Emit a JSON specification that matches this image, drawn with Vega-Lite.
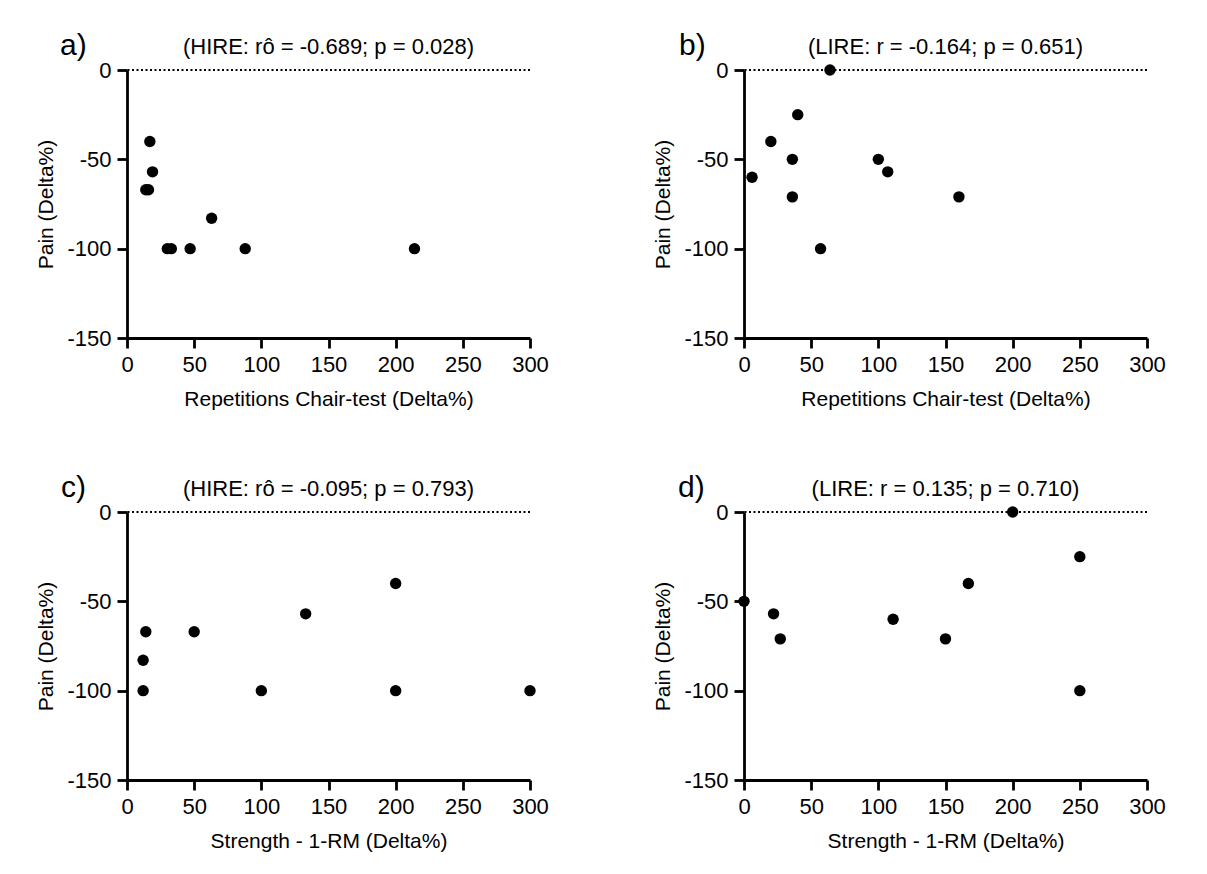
{
  "$schema": "https://vega.github.io/schema/vega-lite/v6.json",
  "padding": {"left": 35, "top": 31, "right": 5, "bottom": 5},
  "background": "white",
  "columns": 2,
  "spacing": {"row": 174, "column": 214},
  "bounds": "flush",
  "concat": [
    {
      "width": 403, "height": 268,
      "layer": [
        {"data": {"values": [{"ref": 0}]}, "mark": {"type": "rule", "strokeDash": [2, 2.5], "strokeWidth": 2, "color": "black"}, "encoding": {"y": {"field": "ref", "type": "quantitative", "scale": {"domain": [-150, 0], "nice": false}}}},
        {"data": {"values": [
          {"x": 17, "pain": -40}, {"x": 19, "pain": -57}, {"x": 14, "pain": -67}, {"x": 16, "pain": -67}, {"x": 63, "pain": -83},
          {"x": 30, "pain": -100}, {"x": 33, "pain": -100}, {"x": 47, "pain": -100}, {"x": 88, "pain": -100}, {"x": 214, "pain": -100}]},
         "mark": {"type": "point", "filled": true, "size": 130, "color": "black", "opacity": 1, "clip": false},
         "encoding": {
           "x": {"field": "x", "type": "quantitative", "scale": {"domain": [0, 300], "nice": false}, "axis": {"values": [0, 50, 100, 150, 200, 250, 300], "title": "Repetitions Chair-test (Delta%)"}},
           "y": {"field": "pain", "type": "quantitative", "scale": {"domain": [-150, 0], "nice": false}, "axis": {"values": [-150, -100, -50, 0], "title": "Pain (Delta%)"}}}},
        {"data": {"values": [{"lx": 0, "ly": 0, "label": "a)"}]}, "mark": {"type": "text", "fontSize": 30, "align": "left", "baseline": "alphabetic", "dx": -67, "dy": -15, "color": "black", "clip": false},
         "encoding": {"x": {"field": "lx", "type": "quantitative"}, "y": {"field": "ly", "type": "quantitative"}, "text": {"field": "label"}}},
        {"data": {"values": [{"lx": 150, "ly": 0, "label": "(HIRE: rô = -0.689; p = 0.028)"}]}, "mark": {"type": "text", "fontSize": 22, "align": "center", "baseline": "alphabetic", "dy": -16, "color": "black", "clip": false},
         "encoding": {"x": {"field": "lx", "type": "quantitative"}, "y": {"field": "ly", "type": "quantitative"}, "text": {"field": "label"}}}
      ]
    },
    {
      "width": 403, "height": 268,
      "layer": [
        {"data": {"values": [{"ref": 0}]}, "mark": {"type": "rule", "strokeDash": [2, 2.5], "strokeWidth": 2, "color": "black"}, "encoding": {"y": {"field": "ref", "type": "quantitative", "scale": {"domain": [-150, 0], "nice": false}}}},
        {"data": {"values": [
          {"x": 64, "pain": 0}, {"x": 40, "pain": -25}, {"x": 20, "pain": -40}, {"x": 36, "pain": -50}, {"x": 6, "pain": -60},
          {"x": 36, "pain": -71}, {"x": 57, "pain": -100}, {"x": 100, "pain": -50}, {"x": 107, "pain": -57}, {"x": 160, "pain": -71}]},
         "mark": {"type": "point", "filled": true, "size": 130, "color": "black", "opacity": 1, "clip": false},
         "encoding": {
           "x": {"field": "x", "type": "quantitative", "scale": {"domain": [0, 300], "nice": false}, "axis": {"values": [0, 50, 100, 150, 200, 250, 300], "title": "Repetitions Chair-test (Delta%)"}},
           "y": {"field": "pain", "type": "quantitative", "scale": {"domain": [-150, 0], "nice": false}, "axis": {"values": [-150, -100, -50, 0], "title": "Pain (Delta%)"}}}},
        {"data": {"values": [{"lx": 0, "ly": 0, "label": "b)"}]}, "mark": {"type": "text", "fontSize": 30, "align": "left", "baseline": "alphabetic", "dx": -65, "dy": -15, "color": "black", "clip": false},
         "encoding": {"x": {"field": "lx", "type": "quantitative"}, "y": {"field": "ly", "type": "quantitative"}, "text": {"field": "label"}}},
        {"data": {"values": [{"lx": 150, "ly": 0, "label": "(LIRE: r = -0.164; p = 0.651)"}]}, "mark": {"type": "text", "fontSize": 22, "align": "center", "baseline": "alphabetic", "dy": -16, "color": "black", "clip": false},
         "encoding": {"x": {"field": "lx", "type": "quantitative"}, "y": {"field": "ly", "type": "quantitative"}, "text": {"field": "label"}}}
      ]
    },
    {
      "width": 403, "height": 268,
      "layer": [
        {"data": {"values": [{"ref": 0}]}, "mark": {"type": "rule", "strokeDash": [2, 2.5], "strokeWidth": 2, "color": "black"}, "encoding": {"y": {"field": "ref", "type": "quantitative", "scale": {"domain": [-150, 0], "nice": false}}}},
        {"data": {"values": [
          {"x": 14, "pain": -67}, {"x": 50, "pain": -67}, {"x": 12, "pain": -83}, {"x": 12, "pain": -100}, {"x": 100, "pain": -100},
          {"x": 133, "pain": -57}, {"x": 200, "pain": -40}, {"x": 200, "pain": -100}, {"x": 300, "pain": -100}]},
         "mark": {"type": "point", "filled": true, "size": 130, "color": "black", "opacity": 1, "clip": false},
         "encoding": {
           "x": {"field": "x", "type": "quantitative", "scale": {"domain": [0, 300], "nice": false}, "axis": {"values": [0, 50, 100, 150, 200, 250, 300], "title": "Strength - 1-RM (Delta%)"}},
           "y": {"field": "pain", "type": "quantitative", "scale": {"domain": [-150, 0], "nice": false}, "axis": {"values": [-150, -100, -50, 0], "title": "Pain (Delta%)"}}}},
        {"data": {"values": [{"lx": 0, "ly": 0, "label": "c)"}]}, "mark": {"type": "text", "fontSize": 30, "align": "left", "baseline": "alphabetic", "dx": -66, "dy": -15, "color": "black", "clip": false},
         "encoding": {"x": {"field": "lx", "type": "quantitative"}, "y": {"field": "ly", "type": "quantitative"}, "text": {"field": "label"}}},
        {"data": {"values": [{"lx": 150, "ly": 0, "label": "(HIRE: rô = -0.095; p = 0.793)"}]}, "mark": {"type": "text", "fontSize": 22, "align": "center", "baseline": "alphabetic", "dy": -16, "color": "black", "clip": false},
         "encoding": {"x": {"field": "lx", "type": "quantitative"}, "y": {"field": "ly", "type": "quantitative"}, "text": {"field": "label"}}}
      ]
    },
    {
      "width": 403, "height": 268,
      "layer": [
        {"data": {"values": [{"ref": 0}]}, "mark": {"type": "rule", "strokeDash": [2, 2.5], "strokeWidth": 2, "color": "black"}, "encoding": {"y": {"field": "ref", "type": "quantitative", "scale": {"domain": [-150, 0], "nice": false}}}},
        {"data": {"values": [
          {"x": 0, "pain": -50}, {"x": 22, "pain": -57}, {"x": 27, "pain": -71}, {"x": 111, "pain": -60}, {"x": 150, "pain": -71},
          {"x": 167, "pain": -40}, {"x": 200, "pain": 0}, {"x": 250, "pain": -25}, {"x": 250, "pain": -100}]},
         "mark": {"type": "point", "filled": true, "size": 130, "color": "black", "opacity": 1, "clip": false},
         "encoding": {
           "x": {"field": "x", "type": "quantitative", "scale": {"domain": [0, 300], "nice": false}, "axis": {"values": [0, 50, 100, 150, 200, 250, 300], "title": "Strength - 1-RM (Delta%)"}},
           "y": {"field": "pain", "type": "quantitative", "scale": {"domain": [-150, 0], "nice": false}, "axis": {"values": [-150, -100, -50, 0], "title": "Pain (Delta%)"}}}},
        {"data": {"values": [{"lx": 0, "ly": 0, "label": "d)"}]}, "mark": {"type": "text", "fontSize": 30, "align": "left", "baseline": "alphabetic", "dx": -66, "dy": -15, "color": "black", "clip": false},
         "encoding": {"x": {"field": "lx", "type": "quantitative"}, "y": {"field": "ly", "type": "quantitative"}, "text": {"field": "label"}}},
        {"data": {"values": [{"lx": 150, "ly": 0, "label": "(LIRE: r = 0.135; p = 0.710)"}]}, "mark": {"type": "text", "fontSize": 22, "align": "center", "baseline": "alphabetic", "dy": -16, "color": "black", "clip": false},
         "encoding": {"x": {"field": "lx", "type": "quantitative"}, "y": {"field": "ly", "type": "quantitative"}, "text": {"field": "label"}}}
      ]
    }
  ],
  "config": {
    "view": {"stroke": null},
    "font": "Liberation Sans",
    "axis": {
      "grid": false, "domainColor": "black", "domainWidth": 2.8, "tickColor": "black", "tickWidth": 2.8, "tickSize": 10,
      "labelFontSize": 22, "labelColor": "black", "labelFont": "Liberation Sans", "labelFlush": false,
      "labelExpr": "'' + datum.value",
      "titleFontSize": 21, "titleFontWeight": "normal", "titleColor": "black", "titleFont": "Liberation Sans",
      "labelPadding": 6, "titlePadding": 10
    },
    "axisX": {"titlePadding": 13}
  }
}
